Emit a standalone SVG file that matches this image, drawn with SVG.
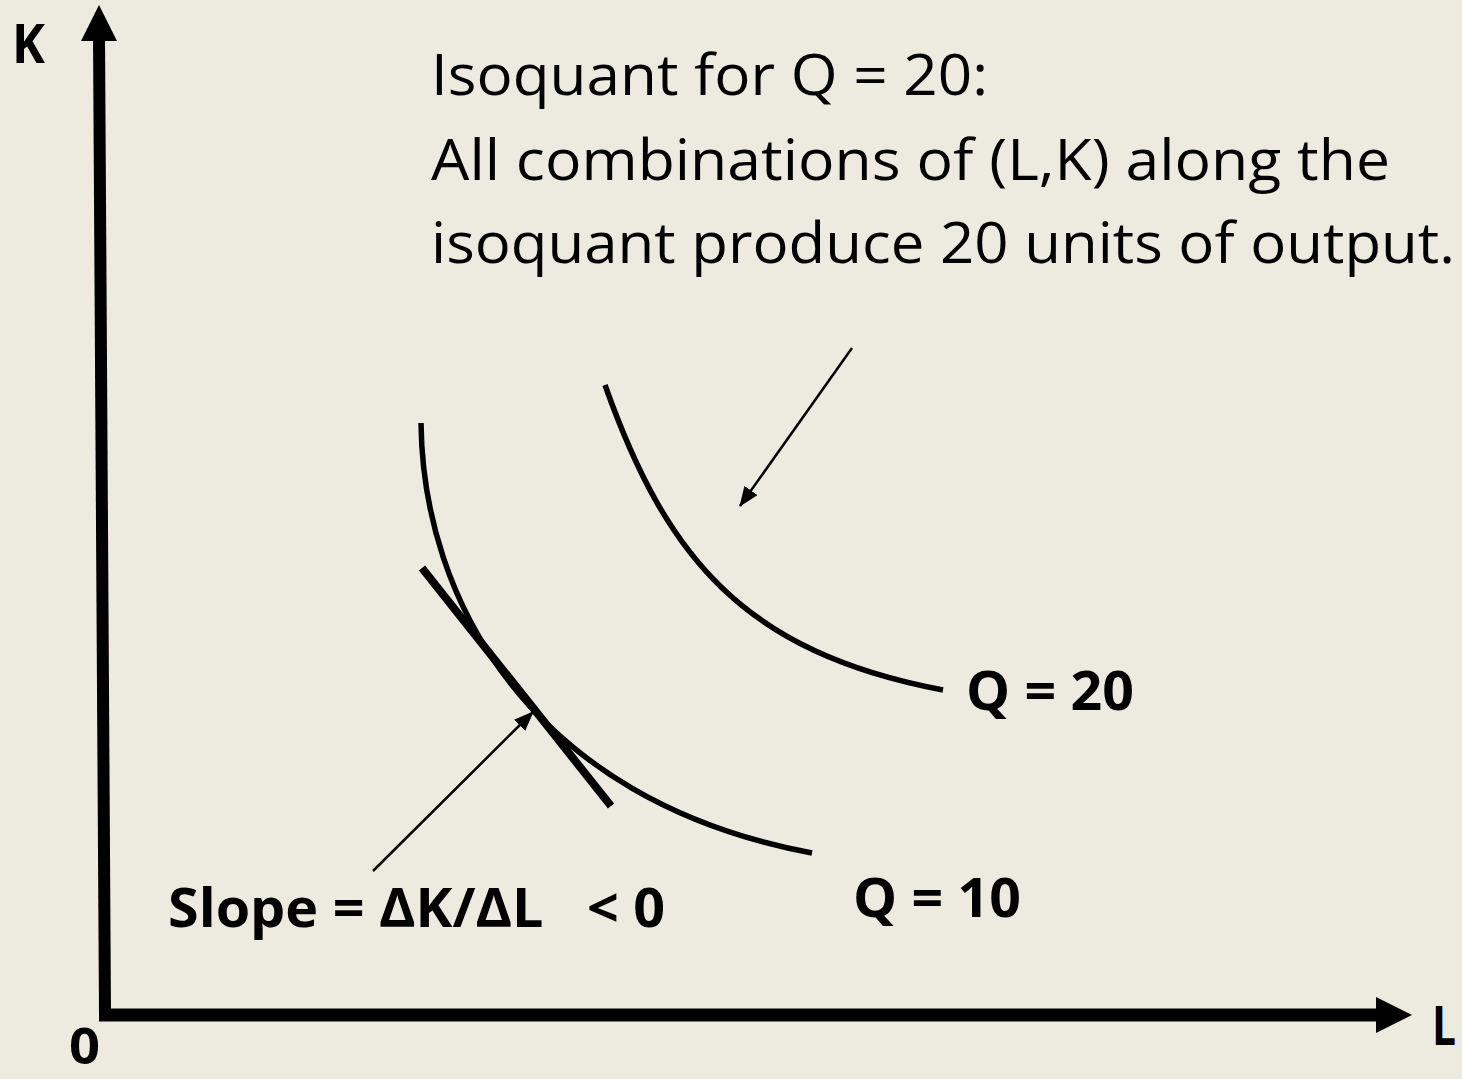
<svg xmlns="http://www.w3.org/2000/svg" width="1462" height="1079" viewBox="0 0 1462 1079">
<style>
.lbl{font-family:"Open Sans","Liberation Sans",sans-serif;fill:#000;}
.b{font-weight:bold;}
.curve{fill:none;stroke:#000;stroke-width:5.5;}
.thin{fill:none;stroke:#000;stroke-width:2.5;}
</style>
<defs>
<marker id="ah" markerUnits="userSpaceOnUse" markerWidth="20" markerHeight="16" viewBox="0 0 20 16" refX="19" refY="8" orient="auto">
<path d="M0,0 L20,8 L0,16 Z" fill="#000"/>
</marker>
</defs>
<rect width="1462" height="1079" fill="#EDEBE0"/>
<g id="axes">
<line x1="99" y1="36" x2="105" y2="1015" stroke="#000" stroke-width="12"/>
<polygon points="81,41 99,5 117,41" fill="#000"/>
<line x1="99" y1="1015" x2="1380" y2="1015" stroke="#000" stroke-width="13"/>
<polygon points="1376,997 1412,1015 1376,1033" fill="#000"/>
</g>
<g id="axis-labels">
<text class="lbl b" x="12" y="63" font-size="54" textLength="33" lengthAdjust="spacingAndGlyphs">K</text>
<text class="lbl b" x="1432" y="1045" font-size="54" textLength="24" lengthAdjust="spacingAndGlyphs">L</text>
<text class="lbl b" x="69" y="1064" font-size="50" textLength="31" lengthAdjust="spacingAndGlyphs">0</text>
</g>
<g id="isoquant-q10">
<path class="curve" d="M421,423 C423,600 530,800 812,853"/>
<text class="lbl b" x="853" y="917" font-size="54" textLength="168" lengthAdjust="spacingAndGlyphs">Q = 10</text>
</g>
<g id="isoquant-q20">
<path class="curve" d="M605,385 C666,557 743,652 943,690"/>
<text class="lbl b" x="966" y="710" font-size="54" textLength="168" lengthAdjust="spacingAndGlyphs">Q = 20</text>
</g>
<g id="tangent">
<line x1="422" y1="568" x2="611" y2="806" stroke="#000" stroke-width="8"/>
</g>
<g id="title">
<text class="lbl" x="431" y="95" font-size="56" textLength="557" lengthAdjust="spacingAndGlyphs">Isoquant for Q = 20:</text>
<text class="lbl" x="431" y="180" font-size="56" textLength="959" lengthAdjust="spacingAndGlyphs">All combinations of (L,K) along the</text>
<text class="lbl" x="431" y="263" font-size="56" textLength="1024" lengthAdjust="spacingAndGlyphs">isoquant produce 20 units of output.</text>
</g>
<g id="slope-label">
<text class="lbl b" x="168" y="927" font-size="54" textLength="497" lengthAdjust="spacingAndGlyphs" style="white-space:pre">Slope = ΔK/ΔL   &lt; 0</text>
</g>
<g id="connectors">
<line class="thin" x1="852" y1="348" x2="740" y2="506" marker-end="url(#ah)"/>
<line class="thin" x1="373" y1="871" x2="533" y2="712" marker-end="url(#ah)"/>
</g>
</svg>
